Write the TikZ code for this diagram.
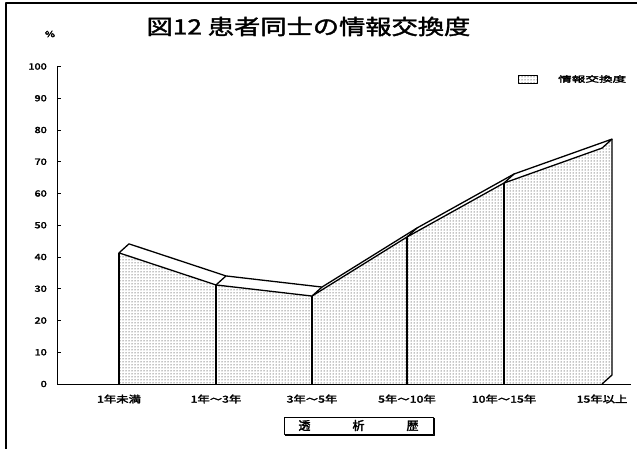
\documentclass[tikz,border=0pt]{standalone}
\usepackage{fontspec}
\newfontfamily\jp[FakeBold=1.6]{Noto Sans CJK JP}
\newfontfamily\jpsm[FakeBold=2.6]{Noto Sans CJK JP}
\usetikzlibrary{calc,patterns}
\newcommand{\wtxt}[2]{\scalebox{#1}[1]{#2}}

\begin{document}
\begin{tikzpicture}[x=1pt,y=-1pt,line join=round]
  \tikzstyle{face}=[pattern=dots,pattern color=black]
  \tikzstyle{edge}=[line width=1.3pt]
  \tikzstyle{tick}=[font=\jpsm\fontsize{8.5}{9}\selectfont,anchor=east,inner sep=0pt]
  \tikzstyle{cat}=[font=\jpsm\fontsize{9.5}{10}\selectfont,inner sep=0pt]

  \useasboundingbox (0,0) rectangle (637,449);
  \draw[line width=1.2pt] (6,449) -- (6,3) -- (637,3);

  \node[font=\jp\fontsize{21}{22}\selectfont,inner sep=0pt] (title) at (308.5,26.5)
    {\wtxt{1.25}{図12 患者同士の情報交換度}};
  \node[tick,anchor=center] (pct) at (50,34) {\wtxt{1.3}{\%}};

  % data points, front face
  \foreach \i/\x/\v in {1/119/41.3,2/216/31.2,3/312/27.7,4/407/46.3,5/504/63.3,6/602/74.3}
    \coordinate (p\i) at (\x,{384-3.175*\v});
  \coordinate (d) at (10,-9);
  \coordinate (b1) at (119,384);
  \coordinate (b6) at (602,384);

  % axes
  \draw[line width=1pt] (57,66) -- (57,384) -- (631,384);
  \foreach \v in {0,10,...,100}{
    \draw[line width=0.8pt] (57,{384-3.175*\v}) -- ++(4,0);
    \node[tick] (t\v) at (47,{384-3.175*\v}) {\wtxt{1.3}{\v}};
  }

  % area
  \fill[face] (b1) -- (p1) -- (p2) -- (p3) -- (p4) -- (p5) -- (p6)
    -- ($(p6)+(d)$) -- ($(b6)+(d)$) -- (b6) -- cycle;
  \filldraw[edge,fill=white] (p1) -- (p2) -- (p3) -- (p4) -- (p5) -- (p6)
    -- ($(p6)+(d)$) -- ($(p5)+(d)$) -- ($(p4)+(d)$) -- ($(p3)+(d)$)
    -- ($(p2)+(d)$) -- ($(p1)+(d)$) -- cycle;
  \draw[edge] (b1) -- (p1);
  \draw[edge] ($(p6)+(d)$) -- ($(b6)+(d)$) -- (b6);
  \foreach \i in {2,...,5}{
    \draw[edge] (p\i) -- ($(p\i)+(d)$);
    \draw[edge] (p\i) -- (p\i |- b1);
  }

  % category labels
  \foreach \i/\t in {1/1年未満,2/1年〜3年,3/3年〜5年,4/5年〜10年,5/10年〜15年,6/15年以上}
    \node[cat] (c\i) at (p\i |- 0,399) {\wtxt{1.3}{\t}};

  % axis title
  \node[draw,line width=0.8pt,minimum width=149pt,minimum height=17pt,inner sep=0pt,
        font=\jpsm\fontsize{12}{12}\selectfont] (xt) at (358.5,425.5)
    {透\hspace{42pt}析\hspace{42pt}歴};
  \draw[line width=1.3pt] ($(xt.north east)+(1,1)$) -- ($(xt.south east)+(1,1)$)
    -- ($(xt.south west)+(1,1)$);

  % legend
  \filldraw[face,draw=black,line width=0.8pt] (518,75) rectangle (537,83);
  \node[font=\jpsm\fontsize{8}{8}\selectfont,anchor=west,inner sep=0pt] (leg) at (558,79)
    {\wtxt{1.7}{情報交換度}};
\end{tikzpicture}
\end{document}
